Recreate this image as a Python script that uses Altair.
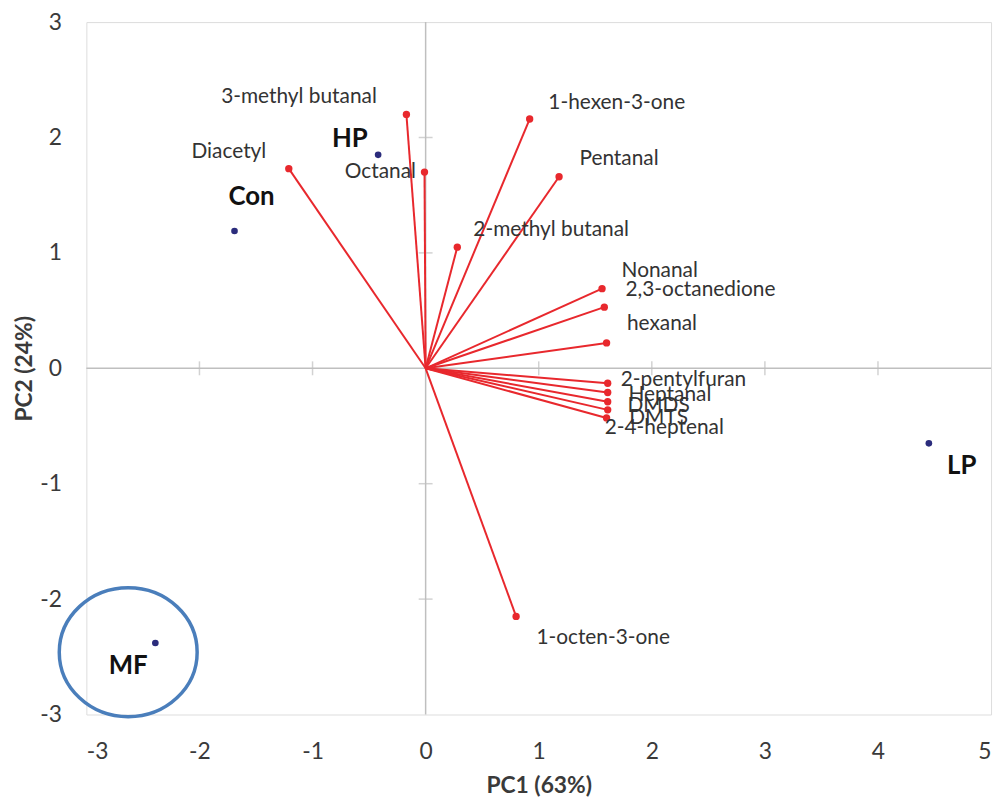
import altair as alt
import pandas as pd

# Loadings (variables)
var_names = ["3-methyl butanal", "Octanal", "Diacetyl", "1-hexen-3-one", "Pentanal",
             "2-methyl butanal", "Nonanal", "2,3-octanedione", "hexanal", "2-pentylfuran",
             "Heptanal", "DMDS", "DMTS", "2-4-heptenal", "1-octen-3-one"]
var_pc1 = [-0.17, -0.01, -1.21, 0.92, 1.18, 0.28, 1.56, 1.58, 1.60, 1.61, 1.61, 1.61, 1.61, 1.60, 0.80]
var_pc2 = [2.20, 1.70, 1.73, 2.16, 1.66, 1.05, 0.69, 0.53, 0.22, -0.13, -0.21, -0.29, -0.36, -0.43, -2.15]
var_label_x = [-1.12, -0.40, -1.74, 1.69, 1.71, 1.11, 2.07, 2.43, 2.09, 2.28, 2.16, 2.06, 2.06, 2.11, 1.57]
var_label_y = [2.35, 1.70, 1.87, 2.30, 1.81, 1.20, 0.84, 0.68, 0.38, -0.10, -0.23, -0.33, -0.43, -0.52, -2.34]

# Scores (samples)
obs_names = ["HP", "Con", "LP", "MF"]
obs_pc1 = [-0.42, -1.69, 4.45, -2.39]
obs_pc2 = [1.85, 1.19, -0.65, -2.38]
obs_label_x = [-0.67, -1.54, 4.74, -2.63]
obs_label_y = [1.99, 1.48, -0.85, -2.58]

# Highlight ellipse around MF
hl_x = [-2.63]
hl_y = [-2.46]

x_ticks = [-3, -2, -1, 0, 1, 2, 3, 4, 5]
y_ticks = [-3, -2, -1, 0, 1, 2, 3]

vars_df = pd.DataFrame({"name": var_names, "x": var_pc1, "y": var_pc2,
                        "lx": var_label_x, "ly": var_label_y,
                        "x0": [0.0] * len(var_names), "y0": [0.0] * len(var_names)})
obs_df = pd.DataFrame({"name": obs_names, "x": obs_pc1, "y": obs_pc2,
                       "lx": obs_label_x, "ly": obs_label_y})
hl_df = pd.DataFrame({"x": hl_x, "y": hl_y})
xt_vals = [v for v in x_ticks if v not in (-3, 0, 5)]
yt_vals = [v for v in y_ticks if v not in (-3, 0, 3)]
xt_df = pd.DataFrame({"x": xt_vals, "y": [0.0] * len(xt_vals)})
yt_df = pd.DataFrame({"y": yt_vals, "x": [0.0] * len(yt_vals)})
zero_df = pd.DataFrame({"x": [0.0], "y": [0.0]})

FONT = "Lato"
GRAY = "#bfbfbf"
TXT = "#3a3a3a"

xscale = alt.Scale(domain=[-3, 5], nice=False, zero=False)
yscale = alt.Scale(domain=[-3, 3], nice=False, zero=False)

xaxis = alt.Axis(values=x_ticks, grid=False, domain=False, ticks=False,
                 labelExpr="'' + datum.value",
                 labelFontSize=23, labelFont=FONT, labelColor=TXT, labelPadding=26,
                 title="PC1 (63%)", titleFont=FONT, titleFontSize=23, titleFontWeight="bold",
                 titleColor=TXT, titlePadding=12)
yaxis = alt.Axis(values=y_ticks, grid=False, domain=False, ticks=False,
                 labelExpr="'' + datum.value",
                 labelFontSize=23, labelFont=FONT, labelColor=TXT, labelPadding=25,
                 title="PC2 (24%)", titleFont=FONT, titleFontSize=23, titleFontWeight="bold",
                 titleColor=TXT, titlePadding=3)

X = alt.X("x:Q", scale=xscale, axis=xaxis)
Y = alt.Y("y:Q", scale=yscale, axis=yaxis)

# zero lines
zero_h = alt.Chart(zero_df).mark_rule(color=GRAY, strokeWidth=1.5).encode(y=Y)
zero_v = alt.Chart(zero_df).mark_rule(color=GRAY, strokeWidth=1.5).encode(x=X)

# cross ticks on zero lines
xt = alt.Chart(xt_df).mark_tick(orient="vertical", color=GRAY, size=14, thickness=1.5).encode(x=X, y=Y)
yt = alt.Chart(yt_df).mark_tick(orient="horizontal", color=GRAY, size=14, thickness=1.5).encode(x=X, y=Y)

vec = alt.Chart(vars_df).mark_rule(color="#e8282d", strokeWidth=2).encode(
    x=alt.X("x0:Q", scale=xscale, axis=xaxis), y=alt.Y("y0:Q", scale=yscale, axis=yaxis),
    x2="x:Q", y2="y:Q")
vec_pts = alt.Chart(vars_df).mark_circle(color="#e8282d", size=55, opacity=1).encode(x=X, y=Y)
vec_lbl = alt.Chart(vars_df).mark_text(font=FONT, fontSize=21, color="#333333",
                                       align="center", baseline="middle").encode(
    x=alt.X("lx:Q", scale=xscale, axis=xaxis), y=alt.Y("ly:Q", scale=yscale, axis=yaxis),
    text="name:N")

obs_pts = alt.Chart(obs_df).mark_circle(color="#2b2c7c", size=45, opacity=1).encode(x=X, y=Y)
obs_lbl = alt.Chart(obs_df).mark_text(font=FONT, fontSize=26, fontWeight="bold", color="#111111",
                                      align="center", baseline="middle").encode(
    x=alt.X("lx:Q", scale=xscale, axis=xaxis), y=alt.Y("ly:Q", scale=yscale, axis=yaxis),
    text="name:N")

ellipse = alt.Chart(hl_df).mark_point(
    shape="M-1,0A1,0.935,0,1,1,1,0A1,0.935,0,1,1,-1,0Z",
    size=139 * 139, filled=False, color="#4a7ebb", strokeWidth=3.5, opacity=1).encode(x=X, y=Y)

chart = alt.layer(zero_h, zero_v, xt, yt, vec, vec_pts, vec_lbl, obs_pts, obs_lbl, ellipse).properties(
    width=912, height=698,
    autosize=alt.AutoSizeParams(type="none"),
    padding={"left": 79, "top": 11, "right": 8, "bottom": 86},
).configure_view(stroke=GRAY, strokeWidth=2).configure(background="white")

chart.save("out.html", embed_options={"renderer": "svg", "actions": False})
